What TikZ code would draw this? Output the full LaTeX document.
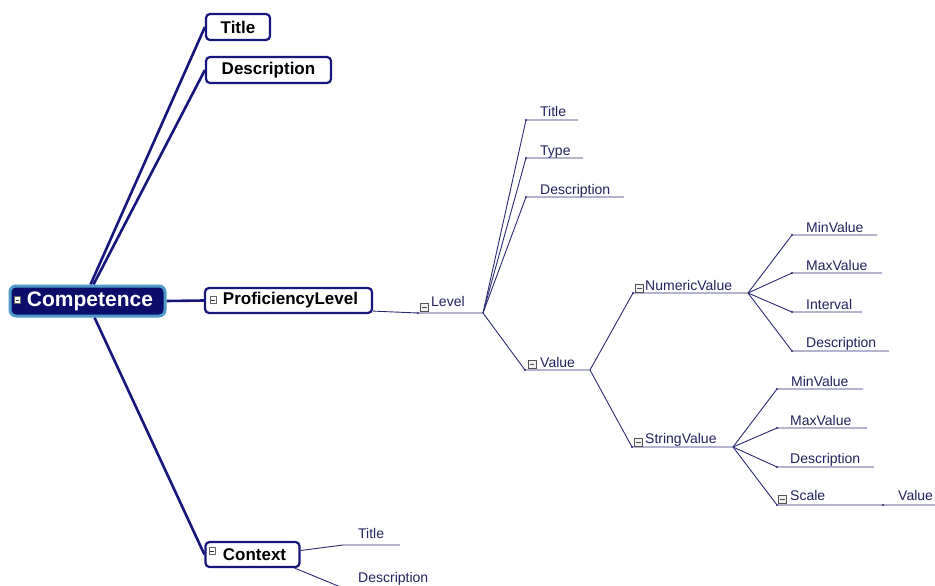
\documentclass[tikz,border=0pt]{standalone}
\usepackage{fontspec}
\setmainfont{Liberation Sans}
\usetikzlibrary{backgrounds}
\definecolor{navy}{HTML}{16167C}
\definecolor{thinc}{HTML}{2A2A74}
\definecolor{txtc}{HTML}{22225E}
\definecolor{rim}{HTML}{4E9ACA}
\definecolor{compfill}{HTML}{0C0C6A}
\begin{document}
\begin{tikzpicture}[x=1pt,y=-1pt,
  mainline/.style={draw=navy,line width=2.6pt},
  thinline/.style={draw=thinc,line width=0.9pt},
  box/.style={draw=navy,line width=2.2pt,rounded corners=4pt,fill=white,inner sep=0pt,
              font=\bfseries\fontsize{17}{19}\selectfont,text=black},
  compbox/.style={draw=rim,line width=3pt,rounded corners=6pt,fill=compfill,text=white,inner sep=0pt,
              font=\bfseries\fontsize{21}{23}\selectfont},
  lbl/.style={anchor=base west,inner sep=0pt,font=\fontsize{14}{16}\selectfont,text=txtc},
  cbox/.style={draw=gray!65!black,fill=gray!12,minimum width=8pt,minimum height=8pt,inner sep=0pt,line width=0.5pt,
     path picture={\draw[black!70,line width=0.8pt]([xshift=1.8pt]path picture bounding box.west)--([xshift=-1.8pt]path picture bounding box.east);}},
  cboxw/.style={draw=black!60,fill=white,minimum width=6pt,minimum height=7pt,inner sep=0pt,line width=0.4pt,
     path picture={\draw[black!80,line width=0.9pt]([xshift=1.2pt]path picture bounding box.west)--([xshift=-1.2pt]path picture bounding box.east);}},
  dotc/.style={fill=thinc}
]
\useasboundingbox (0,0) rectangle (935,586);

% ---- main boxes
\node[compbox,minimum width=155pt,minimum height=30pt] (comp) at (87.5,301) {\hspace*{5pt}Competence};
\node[cboxw] (compM) at (17.5,300) {};

\node[box,minimum width=64pt,minimum height=26pt] (t1) at (238,27) {Title};
\node[box,minimum width=125pt,minimum height=26pt] (d1) at (268.5,70) {Description};
\node[box,minimum width=167pt,minimum height=25pt] (pl) at (288.5,300.5) {\hspace*{4pt}ProficiencyLevel};
\node[cboxw] (plM) at (213,300) {};
\node[box,minimum width=94pt,minimum height=25pt] (ctx) at (252.5,554.5) {\hspace*{4pt}Context};
\node[cboxw] (ctxM) at (212,551) {};

% ---- main branches (behind the boxes)
\begin{scope}[on background layer]
\draw[mainline] ([xshift=3pt]comp.north) -- (t1.west);
\draw[mainline] ([xshift=6pt]comp.north) -- (d1.west);
\draw[mainline] (comp.east) -- (pl.west);
\draw[mainline] ([xshift=7pt]comp.south) -- (ctx.west);
\end{scope}

% ---- Context children
\coordinate (ctS) at (343,545); \coordinate (ctE) at (400,545);
\draw[thinline] ([yshift=4pt]ctx.east) -- (ctS) -- (ctE);
\node[lbl] (ctT) at (358,538) {Title};
\coordinate (cdS) at (343,588); \coordinate (cdE) at (455,588);
\draw[thinline] ([xshift=-6pt]ctx.south east) -- (cdS) -- (cdE);
\node[lbl] (cdT) at (358,582) {Description};

% ---- Level
\coordinate (lvS) at (418,313); \coordinate (lvB) at (483,313);
\draw[thinline] ([yshift=3pt]pl.south east) -- (lvS) -- (lvB);
\fill[dotc] (lvS) circle (1.2);
\node[cbox] (lvM) at (424.5,307.5) {};
\node[lbl] (lvT) at (431,306.5) {Level};

% Level children
\coordinate (a1S) at (526,120); \coordinate (a1E) at (578,120);
\coordinate (a2S) at (526,158); \coordinate (a2E) at (583,158);
\coordinate (a3S) at (526,197); \coordinate (a3E) at (624,197);
\draw[thinline] (lvB) -- (a1S) -- (a1E);
\draw[thinline] (lvB) -- (a2S) -- (a2E);
\draw[thinline] (lvB) -- (a3S) -- (a3E);
\foreach \p in {a1S,a2S,a3S} \fill[dotc] (\p) circle (1.2);
\node[lbl] (a1T) at (540,117) {Title};
\node[lbl] (a2T) at (540,155) {Type};
\node[lbl] (a3T) at (540,194) {Description};

% Value
\coordinate (vS) at (525,370); \coordinate (vB) at (590,370);
\draw[thinline] (lvB) -- (vS) -- (vB);
\fill[dotc] (vS) circle (1.2);
\node[cbox] (vM) at (532,364.5) {};
\node[lbl] (vT) at (540,367) {Value};

% NumericValue
\coordinate (nS) at (633,293); \coordinate (nB) at (748,293);
\draw[thinline] (vB) -- (nS) -- (nB);
\fill[dotc] (nS) circle (1.2);
\node[cbox] (nM) at (639.5,288) {};
\node[lbl] (nT) at (645,290) {NumericValue};

\coordinate (n1S) at (792,235); \coordinate (n1E) at (877,235);
\coordinate (n2S) at (792,273); \coordinate (n2E) at (882,273);
\coordinate (n3S) at (792,312); \coordinate (n3E) at (862,312);
\coordinate (n4S) at (792,351); \coordinate (n4E) at (889,351);
\draw[thinline] (nB) -- (n1S) -- (n1E);
\draw[thinline] (nB) -- (n2S) -- (n2E);
\draw[thinline] (nB) -- (n3S) -- (n3E);
\draw[thinline] (nB) -- (n4S) -- (n4E);
\foreach \p in {n1S,n2S,n3S,n4S} \fill[dotc] (\p) circle (1.2);
\node[lbl] (n1T) at (806,232) {MinValue};
\node[lbl] (n2T) at (806,270) {MaxValue};
\node[lbl] (n3T) at (806,309) {Interval};
\node[lbl] (n4T) at (806,347.5) {Description};

% StringValue
\coordinate (sS) at (632,447); \coordinate (sB) at (733,447);
\draw[thinline] (vB) -- (sS) -- (sB);
\fill[dotc] (sS) circle (1.2);
\node[cbox] (sM) at (638.5,442) {};
\node[lbl] (sT) at (645,443.5) {StringValue};

\coordinate (s1S) at (777,389); \coordinate (s1E) at (863,389);
\coordinate (s2S) at (777,428); \coordinate (s2E) at (867,428);
\coordinate (s3S) at (777,467); \coordinate (s3E) at (874,467);
\coordinate (s4S) at (777,505); \coordinate (s4E) at (883,505);
\coordinate (svE) at (935,505);
\draw[thinline] (sB) -- (s1S) -- (s1E);
\draw[thinline] (sB) -- (s2S) -- (s2E);
\draw[thinline] (sB) -- (s3S) -- (s3E);
\draw[thinline] (sB) -- (s4S) -- (s4E) -- (svE);
\foreach \p in {s1S,s2S,s3S,s4S,s4E} \fill[dotc] (\p) circle (1.2);
\node[lbl] (s1T) at (791,386) {MinValue};
\node[lbl] (s2T) at (790,425) {MaxValue};
\node[lbl] (s3T) at (790,463.5) {Description};
\node[cbox] (s4M) at (782.5,499.5) {};
\node[lbl] (s4T) at (790,500) {Scale};
\node[lbl] (svT) at (898,500) {Value};
\end{tikzpicture}
\end{document}
